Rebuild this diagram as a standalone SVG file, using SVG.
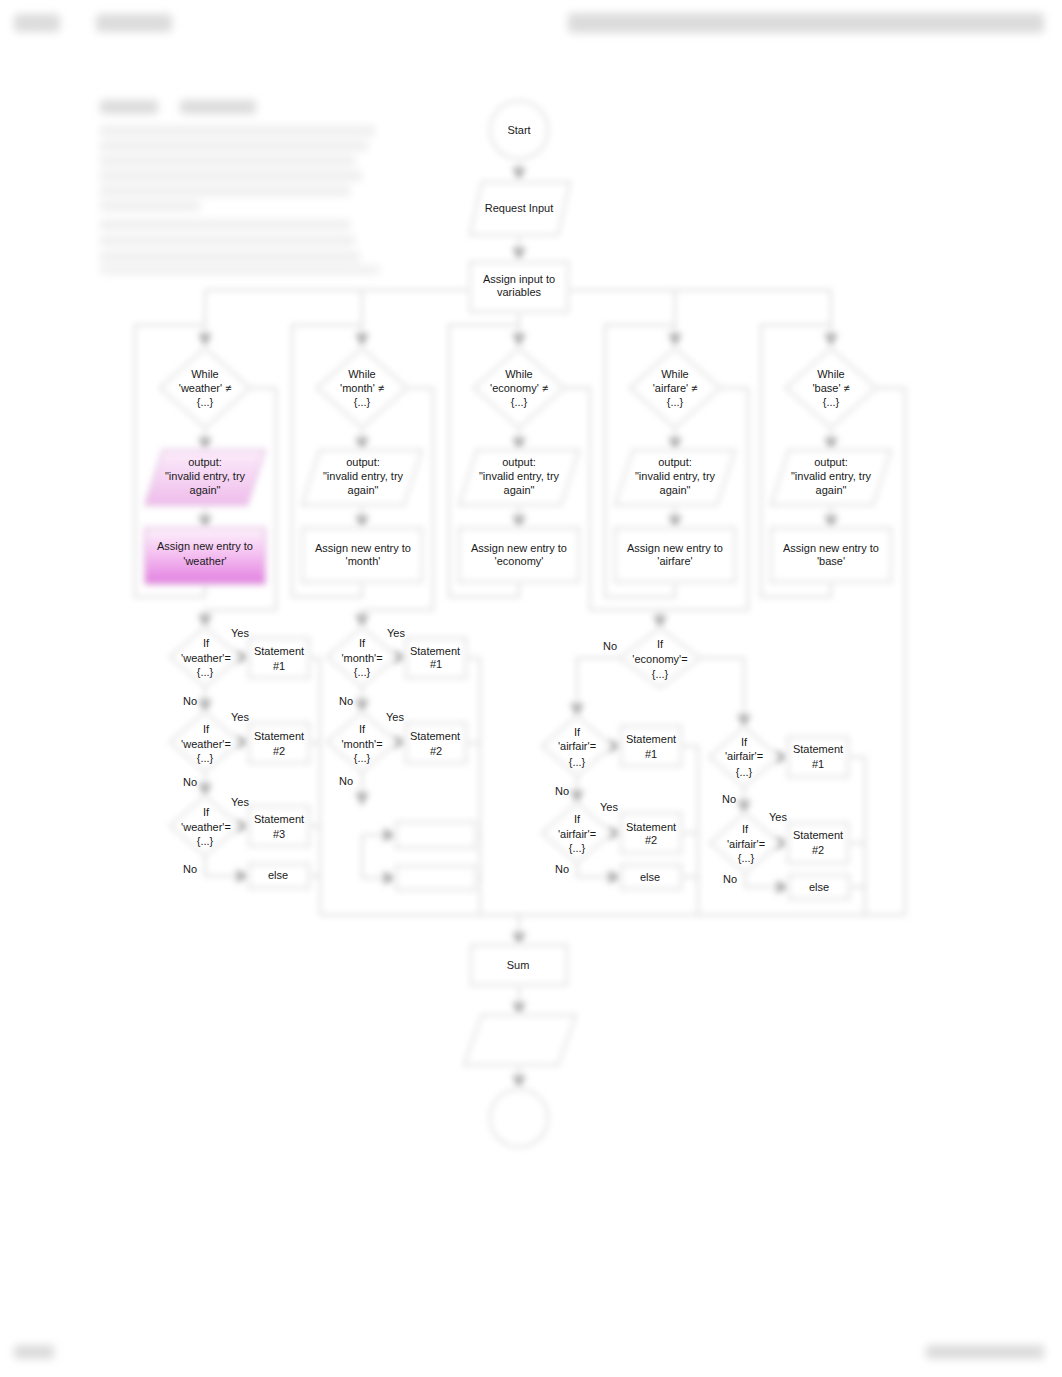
<svg xmlns="http://www.w3.org/2000/svg" width="1062" height="1377" viewBox="0 0 1062 1377">
<defs>
<filter id="blur" x="-20%" y="-20%" width="140%" height="140%"><feGaussianBlur stdDeviation="3"/></filter>
<filter id="blur2" x="-10%" y="-50%" width="120%" height="200%"><feGaussianBlur stdDeviation="4"/></filter>
<marker id="arr" viewBox="0 0 10 10" refX="9" refY="5" markerWidth="7" markerHeight="7" orient="auto"><path d="M0,0 L10,5 L0,10 z" fill="#b0b0b0"/></marker>
<linearGradient id="pinkOut" x1="0" y1="0" x2="0" y2="1"><stop offset="0" stop-color="#fcecfb"/><stop offset="1" stop-color="#efbcec"/></linearGradient>
<linearGradient id="pinkBox" x1="0" y1="0" x2="0" y2="1"><stop offset="0" stop-color="#fdf4fc"/><stop offset="0.45" stop-color="#f5c2f2"/><stop offset="1" stop-color="#e27ee0"/></linearGradient>
</defs>
<style>
.sh{fill:#fff;stroke:#dadada;stroke-width:2}
.ln{fill:none;stroke:#dadada;stroke-width:2;marker-end:url(#arr)}
.ln0{fill:none;stroke:#dadada;stroke-width:2}
.t{font-family:"Liberation Sans",Arial,sans-serif;font-size:11px;fill:#1a1a1a;text-anchor:middle}
.bt{fill:#dcdcdc}
.bt2{fill:#eeeeee}
</style>
<rect width="1062" height="1377" fill="#fff"/>

<g id="blurred-text" filter="url(#blur2)">
<rect class="bt" x="14" y="14" width="46" height="18" rx="4"/>
<rect class="bt" x="96" y="14" width="76" height="18" rx="4"/>
<rect class="bt" x="568" y="13" width="476" height="20" rx="4"/>
<rect class="bt" x="100" y="100" width="58" height="14" rx="3"/>
<rect class="bt" x="180" y="100" width="76" height="14" rx="3"/>
<rect class="bt2" x="100" y="126" width="275" height="10"/>
<rect class="bt2" x="100" y="141" width="268" height="10"/>
<rect class="bt2" x="100" y="156" width="255" height="10"/>
<rect class="bt2" x="100" y="171" width="262" height="10"/>
<rect class="bt2" x="100" y="186" width="250" height="10"/>
<rect class="bt2" x="100" y="201" width="100" height="10"/>
<rect class="bt2" x="100" y="220" width="250" height="10"/>
<rect class="bt2" x="100" y="236" width="255" height="10"/>
<rect class="bt2" x="100" y="252" width="260" height="10"/>
<rect class="bt2" x="100" y="266" width="280" height="8"/>
<rect class="bt" x="14" y="1345" width="40" height="14" rx="3"/>
<rect class="bt" x="926" y="1345" width="118" height="14" rx="3"/>
</g>

<g id="connectors" filter="url(#blur)">
<path class="ln" d="M519,160 V180"/>
<path class="ln" d="M519,235 V260"/>
<path class="ln0" d="M470,290 H205 M568,290 H831"/>
<path class="ln" d="M205,290 V346"/>
<path class="ln" d="M362,290 V346"/>
<path class="ln" d="M519,312 V346"/>
<path class="ln" d="M675,290 V346"/>
<path class="ln" d="M831,290 V346"/>
<path class="ln0" d="M205,582 V597 H135 V325 H205"/>
<path class="ln0" d="M362,582 V597 H292 V325 H362"/>
<path class="ln0" d="M519,582 V597 H449 V325 H519"/>
<path class="ln0" d="M675,582 V597 H605 V325 H675"/>
<path class="ln0" d="M831,582 V597 H761 V325 H831"/>
<path class="ln" d="M205,428 V450"/><path class="ln" d="M205,505 V528"/>
<path class="ln" d="M362,428 V450"/><path class="ln" d="M362,505 V528"/>
<path class="ln" d="M519,428 V450"/><path class="ln" d="M519,505 V528"/>
<path class="ln" d="M675,428 V450"/><path class="ln" d="M675,505 V528"/>
<path class="ln" d="M831,428 V450"/><path class="ln" d="M831,505 V528"/>
<path class="ln" d="M250,388 H276 V610 H205 V627"/>
<path class="ln" d="M407,388 H433 V610 H362 V627"/>
<path class="ln0" d="M564,388 H590 V610 H748 V388 H720"/>
<path class="ln" d="M660,610 V628"/>
<path class="ln0" d="M876,388 H905 V915"/>
<path class="ln" d="M240,657 H249"/>
<path class="ln" d="M205,687 V712"/>
<path class="ln" d="M240,742 H249"/>
<path class="ln" d="M205,772 V796"/>
<path class="ln" d="M240,826 H249"/>
<path class="ln" d="M205,856 V876 H249"/>
<path class="ln0" d="M309,658 H320 M309,743 H320 M309,826 H320 M309,876 H320 M320,658 V915"/>
<path class="ln" d="M397,657 H406"/>
<path class="ln" d="M362,687 V712"/>
<path class="ln" d="M397,742 H406"/>
<path class="ln" d="M362,772 V805"/>
<path class="ln" d="M362,835 H396"/>
<path class="ln" d="M362,835 V878 H396"/>
<path class="ln0" d="M466,658 H480 M466,743 H480 M476,835 H480 M476,878 H480 M480,658 V915"/>
<path class="ln" d="M620,658 H577 V716"/>
<path class="ln" d="M700,658 H744 V727"/>
<path class="ln" d="M612,746 H621"/>
<path class="ln" d="M577,776 V803"/>
<path class="ln" d="M612,833 H621"/>
<path class="ln" d="M577,863 V877 H621"/>
<path class="ln0" d="M681,746 H698 M681,833 H698 M681,877 H698 M698,746 V915"/>
<path class="ln" d="M779,757 H788"/>
<path class="ln" d="M744,787 V813"/>
<path class="ln" d="M780,843 H788"/>
<path class="ln" d="M745,873 V887 H789"/>
<path class="ln0" d="M848,757 H865 M848,843 H865 M849,887 H865 M865,757 V915"/>
<path class="ln0" d="M320,915 H905"/>
<path class="ln" d="M519,915 V945"/>
<path class="ln" d="M519,985 V1015"/>
<path class="ln" d="M519,1065 V1088"/>
</g>

<g id="shapes" filter="url(#blur)">
<g id="start"><circle class="sh" cx="519" cy="130" r="29"/></g>
<g id="request-input"><polygon class="sh" points="482,182 570,182 558,235 470,235"/></g>
<g id="assign-input"><rect class="sh" x="470" y="262" width="98" height="50"/></g>
<g id="while-weather"><polygon class="sh" points="205,348 250,388 205,428 160,388"/></g>
<g id="while-month"><polygon class="sh" points="362,348 407,388 362,428 317,388"/></g>
<g id="while-economy"><polygon class="sh" points="519,348 564,388 519,428 474,388"/></g>
<g id="while-airfare"><polygon class="sh" points="675,348 720,388 675,428 630,388"/></g>
<g id="while-base"><polygon class="sh" points="831,348 876,388 831,428 786,388"/></g>
<g id="output-weather"><polygon points="163,450 265,450 247,505 145,505" fill="url(#pinkOut)" stroke="#e2c2e0" stroke-width="2"/></g>
<g id="output-month"><polygon class="sh" points="320,450 422,450 404,505 302,505"/></g>
<g id="output-economy"><polygon class="sh" points="477,450 579,450 561,505 459,505"/></g>
<g id="output-airfare"><polygon class="sh" points="633,450 735,450 717,505 615,505"/></g>
<g id="output-base"><polygon class="sh" points="789,450 891,450 873,505 771,505"/></g>
<g id="assign-weather"><rect x="145" y="528" width="120" height="56" fill="url(#pinkBox)" stroke="#e0b8de" stroke-width="2"/></g>
<g id="assign-month"><rect class="sh" x="302" y="528" width="120" height="54"/></g>
<g id="assign-economy"><rect class="sh" x="459" y="528" width="120" height="54"/></g>
<g id="assign-airfare"><rect class="sh" x="615" y="528" width="120" height="54"/></g>
<g id="assign-base"><rect class="sh" x="771" y="528" width="120" height="54"/></g>
<g id="if-weather-1"><polygon class="sh" points="205,627 240,657 205,687 170,657"/></g>
<g id="stmt-weather-1"><rect class="sh" x="249" y="638" width="60" height="40"/></g>
<g id="if-weather-2"><polygon class="sh" points="205,712 240,742 205,772 170,742"/></g>
<g id="stmt-weather-2"><rect class="sh" x="249" y="723" width="60" height="40"/></g>
<g id="if-weather-3"><polygon class="sh" points="205,796 240,826 205,856 170,826"/></g>
<g id="stmt-weather-3"><rect class="sh" x="249" y="806" width="60" height="40"/></g>
<g id="else-weather"><rect class="sh" x="249" y="864" width="60" height="24"/></g>
<g id="if-month-1"><polygon class="sh" points="362,627 397,657 362,687 327,657"/></g>
<g id="stmt-month-1"><rect class="sh" x="406" y="638" width="60" height="40"/></g>
<g id="if-month-2"><polygon class="sh" points="362,712 397,742 362,772 327,742"/></g>
<g id="stmt-month-2"><rect class="sh" x="406" y="723" width="60" height="40"/></g>
<g id="month-box-3"><rect class="sh" x="396" y="822" width="80" height="26"/></g>
<g id="month-box-4"><rect class="sh" x="396" y="866" width="80" height="24"/></g>
<g id="if-economy"><polygon class="sh" points="660,628 700,658 660,688 620,658"/></g>
<g id="if-airfair-l1"><polygon class="sh" points="577,716 612,746 577,776 542,746"/></g>
<g id="stmt-airfair-l1"><rect class="sh" x="621" y="726" width="60" height="40"/></g>
<g id="if-airfair-l2"><polygon class="sh" points="577,803 612,833 577,863 542,833"/></g>
<g id="stmt-airfair-l2"><rect class="sh" x="621" y="813" width="60" height="40"/></g>
<g id="else-airfair-l"><rect class="sh" x="621" y="865" width="60" height="24"/></g>
<g id="if-airfair-r1"><polygon class="sh" points="744,727 779,757 744,787 709,757"/></g>
<g id="stmt-airfair-r1"><rect class="sh" x="788" y="737" width="60" height="40"/></g>
<g id="if-airfair-r2"><polygon class="sh" points="745,813 780,843 745,873 710,843"/></g>
<g id="stmt-airfair-r2"><rect class="sh" x="788" y="823" width="60" height="40"/></g>
<g id="else-airfair-r"><rect class="sh" x="789" y="875" width="60" height="24"/></g>
<g id="sum"><rect class="sh" x="471" y="945" width="96" height="40"/></g>
<g id="output-final"><polygon class="sh" points="482,1015 576,1015 558,1065 464,1065"/></g>
<g id="end"><circle class="sh" cx="519" cy="1118" r="29"/></g>
</g>

<g id="labels">
<text class="t" x="519" y="134">Start</text>
<text class="t" x="519" y="212">Request Input</text>
<text class="t" x="519" y="283">Assign input to</text>
<text class="t" x="519" y="296">variables</text>
<text class="t" x="205" y="378">While</text><text class="t" x="205" y="392">'weather' ≠</text><text class="t" x="205" y="406">{...}</text>
<text class="t" x="362" y="378">While</text><text class="t" x="362" y="392">'month' ≠</text><text class="t" x="362" y="406">{...}</text>
<text class="t" x="519" y="378">While</text><text class="t" x="519" y="392">'economy' ≠</text><text class="t" x="519" y="406">{...}</text>
<text class="t" x="675" y="378">While</text><text class="t" x="675" y="392">'airfare' ≠</text><text class="t" x="675" y="406">{...}</text>
<text class="t" x="831" y="378">While</text><text class="t" x="831" y="392">'base' ≠</text><text class="t" x="831" y="406">{...}</text>
<text class="t" x="205" y="466">output:</text><text class="t" x="205" y="480">"invalid entry, try</text><text class="t" x="205" y="494">again"</text>
<text class="t" x="363" y="466">output:</text><text class="t" x="363" y="480">"invalid entry, try</text><text class="t" x="363" y="494">again"</text>
<text class="t" x="519" y="466">output:</text><text class="t" x="519" y="480">"invalid entry, try</text><text class="t" x="519" y="494">again"</text>
<text class="t" x="675" y="466">output:</text><text class="t" x="675" y="480">"invalid entry, try</text><text class="t" x="675" y="494">again"</text>
<text class="t" x="831" y="466">output:</text><text class="t" x="831" y="480">"invalid entry, try</text><text class="t" x="831" y="494">again"</text>
<text class="t" x="205" y="550">Assign new entry to</text><text class="t" x="205" y="565">'weather'</text>
<text class="t" x="363" y="552">Assign new entry to</text><text class="t" x="363" y="565">'month'</text>
<text class="t" x="519" y="552">Assign new entry to</text><text class="t" x="519" y="565">'economy'</text>
<text class="t" x="675" y="552">Assign new entry to</text><text class="t" x="675" y="565">'airfare'</text>
<text class="t" x="831" y="552">Assign new entry to</text><text class="t" x="831" y="565">'base'</text>
<text class="t" x="240" y="637">Yes</text>
<text class="t" x="206" y="647">If</text><text class="t" x="206" y="662">'weather'=</text><text class="t" x="205" y="676">{...}</text>
<text class="t" x="279" y="655">Statement</text><text class="t" x="279" y="670">#1</text>
<text class="t" x="190" y="705">No</text>
<text class="t" x="240" y="721">Yes</text>
<text class="t" x="206" y="733">If</text><text class="t" x="206" y="748">'weather'=</text><text class="t" x="205" y="762">{...}</text>
<text class="t" x="279" y="740">Statement</text><text class="t" x="279" y="755">#2</text>
<text class="t" x="190" y="786">No</text>
<text class="t" x="240" y="806">Yes</text>
<text class="t" x="206" y="816">If</text><text class="t" x="206" y="831">'weather'=</text><text class="t" x="205" y="845">{...}</text>
<text class="t" x="279" y="823">Statement</text><text class="t" x="279" y="838">#3</text>
<text class="t" x="190" y="873">No</text>
<text class="t" x="278" y="879">else</text>
<text class="t" x="396" y="637">Yes</text>
<text class="t" x="362" y="647">If</text><text class="t" x="362" y="662">'month'=</text><text class="t" x="362" y="676">{...}</text>
<text class="t" x="435" y="655">Statement</text><text class="t" x="436" y="668">#1</text>
<text class="t" x="346" y="705">No</text>
<text class="t" x="395" y="721">Yes</text>
<text class="t" x="362" y="733">If</text><text class="t" x="362" y="748">'month'=</text><text class="t" x="362" y="762">{...}</text>
<text class="t" x="435" y="740">Statement</text><text class="t" x="436" y="755">#2</text>
<text class="t" x="346" y="785">No</text>
<text class="t" x="610" y="650">No</text>
<text class="t" x="660" y="648">If</text><text class="t" x="660" y="663">'economy'=</text><text class="t" x="660" y="678">{...}</text>
<text class="t" x="577" y="736">If</text><text class="t" x="577" y="750">'airfair'=</text><text class="t" x="577" y="766">{...}</text>
<text class="t" x="651" y="743">Statement</text><text class="t" x="651" y="758">#1</text>
<text class="t" x="562" y="795">No</text>
<text class="t" x="609" y="811">Yes</text>
<text class="t" x="577" y="823">If</text><text class="t" x="577" y="838">'airfair'=</text><text class="t" x="577" y="852">{...}</text>
<text class="t" x="651" y="831">Statement</text><text class="t" x="651" y="844">#2</text>
<text class="t" x="562" y="873">No</text>
<text class="t" x="650" y="881">else</text>
<text class="t" x="744" y="746">If</text><text class="t" x="744" y="760">'airfair'=</text><text class="t" x="744" y="776">{...}</text>
<text class="t" x="818" y="753">Statement</text><text class="t" x="818" y="768">#1</text>
<text class="t" x="729" y="803">No</text>
<text class="t" x="778" y="821">Yes</text>
<text class="t" x="745" y="833">If</text><text class="t" x="746" y="848">'airfair'=</text><text class="t" x="746" y="862">{...}</text>
<text class="t" x="818" y="839">Statement</text><text class="t" x="818" y="854">#2</text>
<text class="t" x="730" y="883">No</text>
<text class="t" x="819" y="891">else</text>
<text class="t" x="518" y="969">Sum</text>
</g>
</svg>
